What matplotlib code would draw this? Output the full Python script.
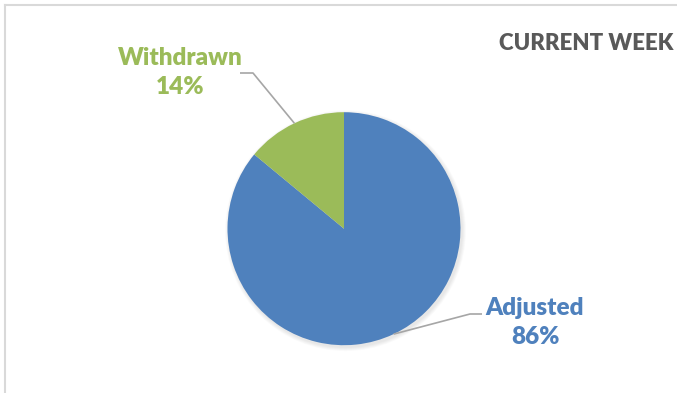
import matplotlib
matplotlib.use("Agg")
import matplotlib.pyplot as plt
from matplotlib.patches import Circle
from matplotlib.lines import Line2D
import numpy as np

# data
categories = ["Adjusted", "Withdrawn"]
values = [86, 14]
colors = ["#4F81BD", "#9BBB59"]
title = "CURRENT WEEK"

plt.rcParams["font.family"] = ["Lato", "DejaVu Sans"]

W, H = 677, 393
fig = plt.figure(figsize=(W / 100, H / 100), dpi=100)
fig.patch.set_facecolor("white")
ax = fig.add_axes([0, 0, 1, 1])
ax.set_xlim(0, W)
ax.set_ylim(0, H)
ax.set_aspect("equal")
ax.axis("off")

# chart frame (only left and top edges visible)
fig.add_artist(Line2D([5.5 / W, 5.5 / W], [0, 1 - 4.5 / H], color="#D9D9D9", lw=1.5))
fig.add_artist(Line2D([5.5 / W, 1], [1 - 4.5 / H, 1 - 4.5 / H], color="#D9D9D9", lw=1.5))

cx, cy, r = 344.0, H - 228.7, 116.5

# soft drop shadow
for k in range(8):
    ax.add_patch(Circle((cx + 1.5, cy - 2), r + 4 - k * 0.5, color="black",
                        alpha=0.012, lw=0, zorder=1))

wedges, _ = ax.pie(values, colors=colors, startangle=90, counterclock=False,
                   center=(cx, cy), radius=r, frame=True,
                   wedgeprops=dict(linewidth=0, zorder=2))
ax.set_xlim(0, W)
ax.set_ylim(0, H)
ax.axis("off")

total = sum(values)
# label positions and leader elbows
label_xy = {"Adjusted": (535, H - 322.5), "Withdrawn": (180, H - 72.5)}
elbow = {"Adjusted": [(470, H - 314), (482, H - 314)],
         "Withdrawn": [(253, H - 73), (240, H - 73)]}

for w, name, v, c in zip(wedges, categories, values, colors):
    mid = np.deg2rad((w.theta1 + w.theta2) / 2)
    sx, sy = cx + r * np.cos(mid), cy + r * np.sin(mid)
    pts = [(sx, sy)] + elbow[name]
    ax.plot([p[0] for p in pts], [p[1] for p in pts], color="#A6A6A6", lw=1.2,
            zorder=3, solid_capstyle="butt")
    tx, ty = label_xy[name]
    ax.text(tx, ty, f"{name}\n{v / total:.0%}", color=c, fontsize=17.5,
            fontweight="heavy", ha="center", va="center", linespacing=1.4, zorder=4)

ax.text(586.5, H - 43.5, title, color="#595959", fontsize=16, fontweight="heavy",
        ha="center", va="center")

fig.savefig("out.png", dpi=100, facecolor="white")
